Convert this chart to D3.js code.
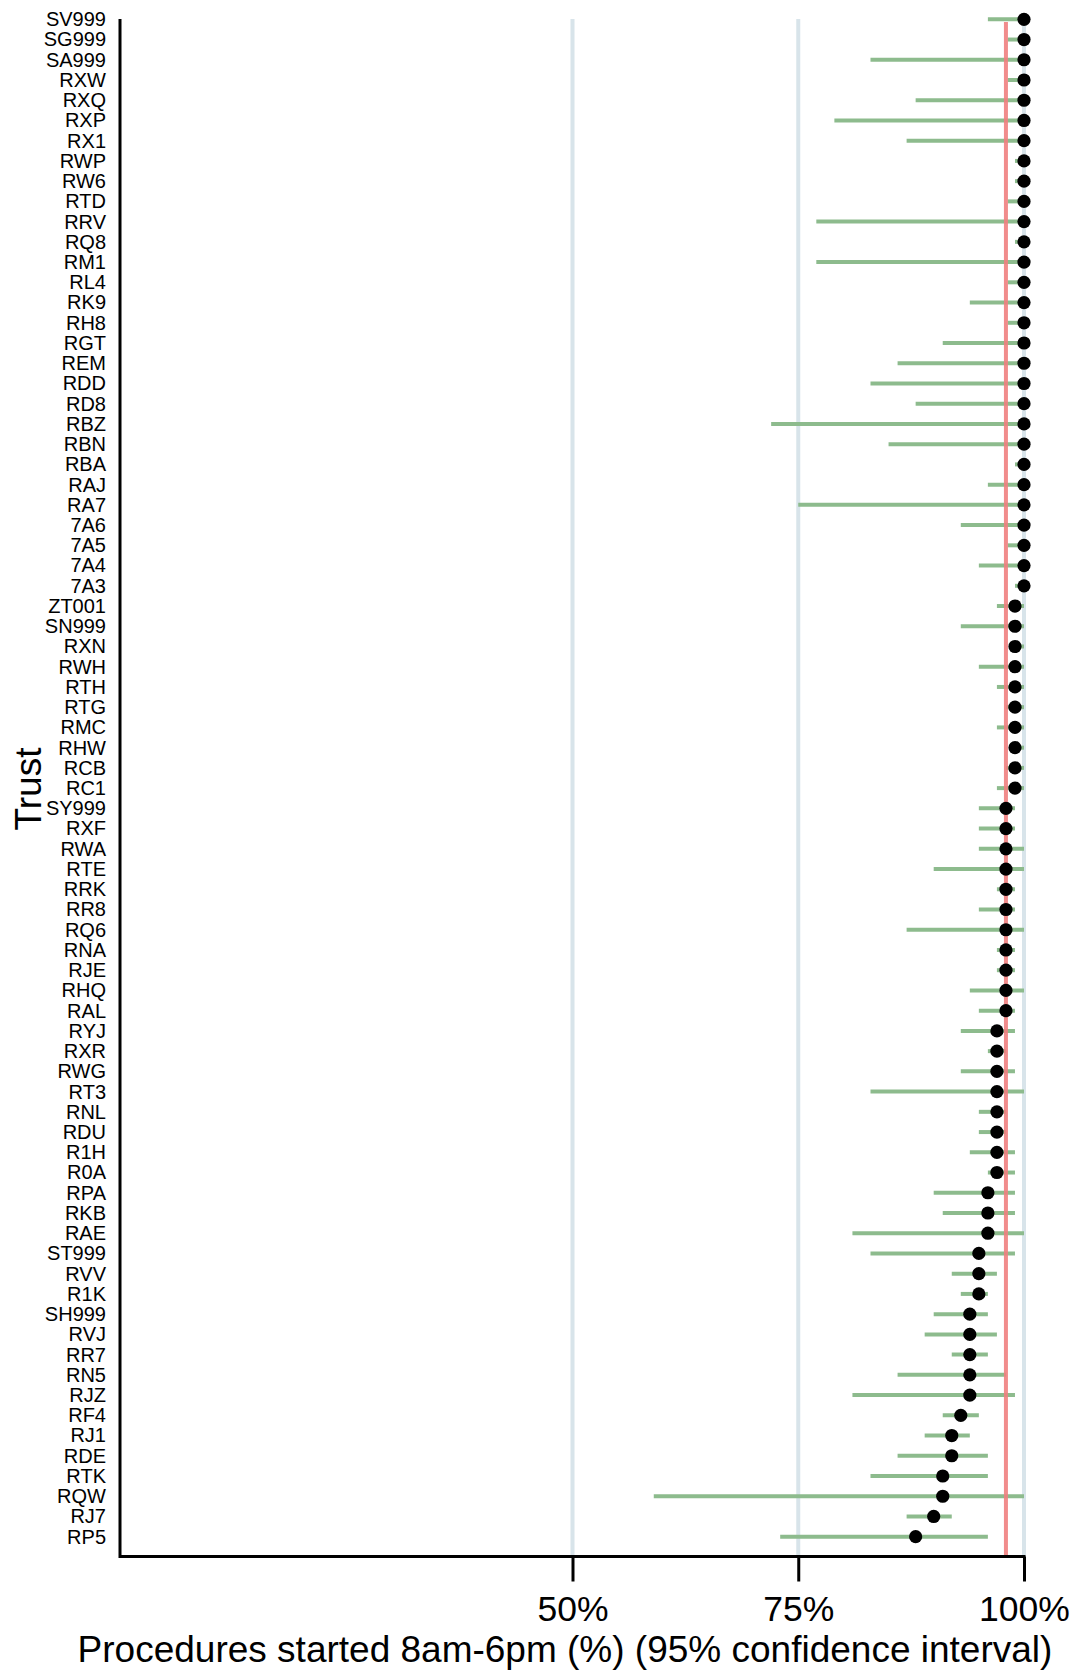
<!DOCTYPE html>
<html><head><meta charset="utf-8">
<script src="https://cdn.jsdelivr.net/npm/d3@7"></script>
<style>body{margin:0;background:#fff} svg{display:block}</style>
</head><body><svg id="chart" width="1075" height="1674"></svg>
<script>
const trusts = ["SV999","SG999","SA999","RXW","RXQ","RXP","RX1","RWP","RW6","RTD","RRV","RQ8","RM1","RL4","RK9","RH8","RGT","REM","RDD","RD8","RBZ","RBN","RBA","RAJ","RA7","7A6","7A5","7A4","7A3","ZT001","SN999","RXN","RWH","RTH","RTG","RMC","RHW","RCB","RC1","SY999","RXF","RWA","RTE","RRK","RR8","RQ6","RNA","RJE","RHQ","RAL","RYJ","RXR","RWG","RT3","RNL","RDU","R1H","R0A","RPA","RKB","RAE","ST999","RVV","R1K","SH999","RVJ","RR7","RN5","RJZ","RF4","RJ1","RDE","RTK","RQW","RJ7","RP5"];
const values = [100,100,100,100,100,100,100,100,100,100,100,100,100,100,100,100,100,100,100,100,100,100,100,100,100,100,100,100,100,
  99,99,99,99,99,99,99,99,99,99,
  98,98,98,98,98,98,98,98,98,98,98,
  97,97,97,97,97,97,97,97,
  96,96,96,95,95,95,94,94,94,94,94,93,92,92,91,91,90,88];
const lower = [96,98.2,83,98.2,88,79,87,99,99,98.2,77,99,77,98.2,94,98.2,91,86,83,88,72,85,99,96,75,93,98.2,95,99,
  97,93,98.5,95,97,98,97,98.5,98,97,
  95,95,95,90,97,95,87,97,97,94,95,
  93,96,93,83,95,95,94,96,
  90,91,81,83,92,93,90,89,92,86,81,91,89,86,83,59,87,73];
const upper = [100,100,100,100,100,100,100,100,100,100,100,100,100,100,100,100,100,100,100,100,100,100,100,100,100,100,100,100,100,
  100,100,100,100,100,100,100,100,100,100,
  99,99,100,100,99,99,100,99,99,100,99,
  99,98,99,100,98,98,99,99,
  99,99,100,99,97,96,96,97,96,98,99,95,94,96,96,100,92,96];
const targetValue = 98;
const xTicks = [50, 75, 100];
const xTickLabels = ["50%", "75%", "100%"];

const svg = d3.select("#chart");
const font = "'Liberation Sans', Arial, sans-serif";
const x = d3.scaleLinear().domain([0, 100]).range([121, 1024]);
const y = d3.scalePoint().domain(trusts).range([19.3, 1536.7]);
const plotTop = 19, plotBottom = 1556.5;

// gridlines
svg.append("g").selectAll("line").data(xTicks).join("line")
  .attr("x1", d => x(d)).attr("x2", d => x(d))
  .attr("y1", plotTop).attr("y2", plotBottom)
  .attr("stroke", "#d8e4ea").attr("stroke-width", 4);

// CI lines
svg.append("g").selectAll("line").data(trusts).join("line")
  .attr("x1", (d, i) => x(lower[i])).attr("x2", (d, i) => x(upper[i]))
  .attr("y1", d => y(d)).attr("y2", d => y(d))
  .attr("stroke", "#8dbb8d").attr("stroke-width", 4);

// target line
svg.append("line")
  .attr("x1", x(targetValue)).attr("x2", x(targetValue))
  .attr("y1", plotTop + 3).attr("y2", plotBottom)
  .attr("stroke", "#f08080").attr("stroke-width", 4).attr("opacity", 0.9);

// dots
svg.append("g").selectAll("circle").data(trusts).join("circle")
  .attr("cx", (d, i) => x(values[i])).attr("cy", d => y(d))
  .attr("r", 6.6).attr("fill", "#000");

// y axis
const yAxis = svg.append("g").attr("transform", "translate(120,0)")
  .call(d3.axisLeft(y).tickSize(0).tickPadding(14));
yAxis.select(".domain").attr("d", `M0,${plotTop}V${plotBottom + 1.5}`).attr("stroke", "#000").attr("stroke-width", 3);
yAxis.selectAll("text").attr("font-family", font).attr("font-size", 20).attr("fill", "#000");

// x axis
const xAxis = svg.append("g").attr("transform", `translate(0,${plotBottom})`)
  .call(d3.axisBottom(x).tickValues(xTicks).tickFormat((d, i) => xTickLabels[i]).tickSize(25).tickPadding(14).tickSizeOuter(0));
xAxis.select(".domain").attr("d", `M119,0H${x(100) + 1.5}`).attr("stroke", "#000").attr("stroke-width", 3);
xAxis.selectAll(".tick line").attr("stroke", "#000").attr("stroke-width", 3);
xAxis.selectAll("text").attr("font-family", font).attr("font-size", 35.5).attr("fill", "#000")
  .attr("dy", null).attr("y", 64);

// titles
svg.append("text").attr("x", 565).attr("y", 1662).attr("text-anchor", "middle")
  .attr("font-family", font).attr("font-size", 37).attr("fill", "#000")
  .text("Procedures started 8am-6pm (%) (95% confidence interval)");
svg.append("text").attr("transform", "translate(41,789) rotate(-90)").attr("text-anchor", "middle")
  .attr("font-family", font).attr("font-size", 37).attr("fill", "#000")
  .text("Trust");
</script></body></html>
